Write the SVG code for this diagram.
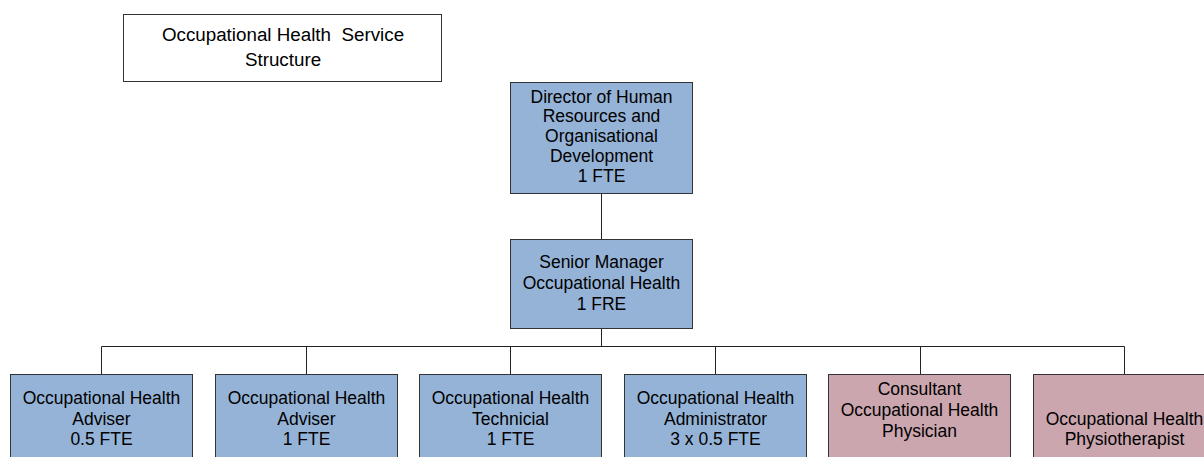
<svg xmlns="http://www.w3.org/2000/svg" width="1204" height="457" viewBox="0 0 1204 457">
<style>
text{font-family:"Liberation Sans",Arial,sans-serif;font-size:17.5px;fill:#000;text-anchor:middle}
.blue{fill:#95B3D7;stroke:#333;stroke-width:1}
.pink{fill:#CCA6AF;stroke:#333;stroke-width:1}
.title{fill:#fff;stroke:#333;stroke-width:1}
.conn{stroke:#222;stroke-width:1;fill:none}
</style>
<rect width="1204" height="457" fill="#fff"/>
<g id="title">
<rect class="title" x="123.5" y="14.5" width="318" height="67"/>
<text x="283" y="40.5" xml:space="preserve" style="font-size:18.8px">Occupational Health  Service</text>
<text x="283" y="65.5" style="font-size:18.8px">Structure</text>
</g>
<g id="connectors">
<path class="conn" d="M601.5 194V239"/>
<path class="conn" d="M601.5 329V346.5"/>
<path class="conn" d="M101.5 346.5H1124.5"/>
<path class="conn" d="M101.5 346.5V374M306.5 346.5V374M510.5 346.5V374M715.5 346.5V374M920.5 346.5V374M1124.5 346.5V374"/>
</g>
<g id="director">
<rect class="blue" x="510.5" y="82.5" width="182" height="111"/>
<text x="601.5" y="102.5">Director of Human</text>
<text x="601.5" y="122.3">Resources and</text>
<text x="601.5" y="142">Organisational</text>
<text x="601.5" y="161.8">Development</text>
<text x="601.5" y="181.6">1 FTE</text>
</g>
<g id="senior-manager">
<rect class="blue" x="510.5" y="239.5" width="182" height="89"/>
<text x="601.5" y="268">Senior Manager</text>
<text x="601.5" y="289">Occupational Health</text>
<text x="601.5" y="310">1 FRE</text>
</g>
<g id="adviser-05">
<rect class="blue" x="10.5" y="374.5" width="182" height="100"/>
<text x="101.5" y="404">Occupational Health</text>
<text x="101.5" y="424.5">Adviser</text>
<text x="101.5" y="445">0.5 FTE</text>
</g>
<g id="adviser-1">
<rect class="blue" x="215.5" y="374.5" width="182" height="100"/>
<text x="306.5" y="404">Occupational Health</text>
<text x="306.5" y="424.5">Adviser</text>
<text x="306.5" y="445">1 FTE</text>
</g>
<g id="technician">
<rect class="blue" x="419.5" y="374.5" width="182" height="100"/>
<text x="510.5" y="404">Occupational Health</text>
<text x="510.5" y="424.5">Technicial</text>
<text x="510.5" y="445">1 FTE</text>
</g>
<g id="administrator">
<rect class="blue" x="624.5" y="374.5" width="182" height="100"/>
<text x="715.5" y="404">Occupational Health</text>
<text x="715.5" y="424.5">Administrator</text>
<text x="715.5" y="445">3 x 0.5 FTE</text>
</g>
<g id="physician">
<rect class="pink" x="828.5" y="374.5" width="182" height="100"/>
<text x="919.5" y="395">Consultant</text>
<text x="919.5" y="416">Occupational Health</text>
<text x="919.5" y="436.5">Physician</text>
</g>
<g id="physiotherapist">
<rect class="pink" x="1033.5" y="374.5" width="182" height="100"/>
<text x="1124.5" y="425">Occupational Health</text>
<text x="1124.5" y="445">Physiotherapist</text>
</g>
</svg>
